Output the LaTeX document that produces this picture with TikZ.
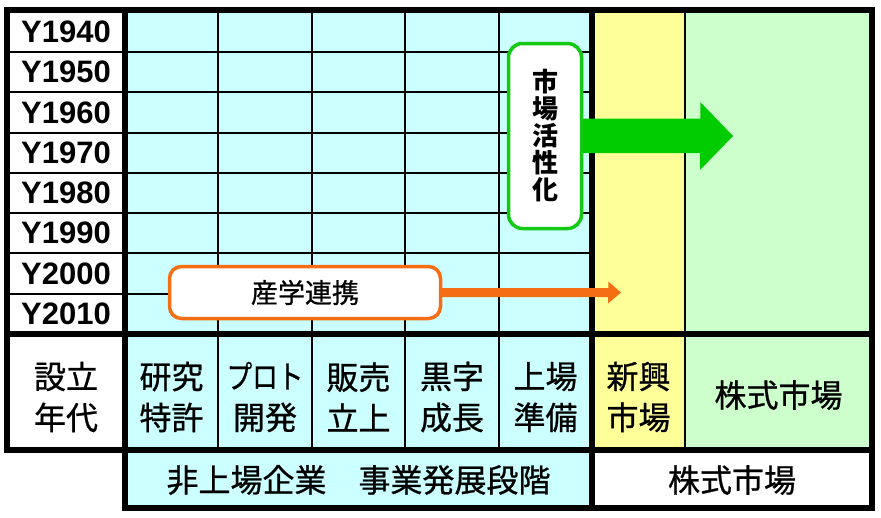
\documentclass[tikz,border=0pt]{standalone}
\usepackage{graphicx}
\usepackage{fontspec}
\setmainfont{Liberation Sans}
\newfontfamily\jp[FakeBold=0.8]{Noto Sans CJK JP}
\newfontfamily\jpb{Noto Sans CJK JP}
\definecolor{cyanbg}{RGB}{204,255,255}
\definecolor{yellowbg}{RGB}{255,255,153}
\definecolor{greenbg}{RGB}{204,255,204}
\definecolor{garrow}{RGB}{0,204,0}
\definecolor{gbord}{RGB}{20,200,20}
\definecolor{oarrow}{RGB}{245,110,20}
\begin{document}
\begin{tikzpicture}[x=1pt,y=-1pt,
  yearlbl/.style={font=\fontsize{31}{31}\selectfont\bfseries, inner sep=0pt},
  cell/.style={font=\jp\fontsize{32}{41}\selectfont, align=center, inner sep=0pt},
  thinln/.style={line width=2pt},
  thickln/.style={line width=6pt},
  mkbox/.style={draw=gbord, line width=3.5pt, fill=white, rounded corners=14pt,
    minimum width=73pt, minimum height=185pt, align=center, inner sep=0pt,
    font=\jpb\bfseries\fontsize{26}{27}\selectfont},
  sgbox/.style={draw=oarrow, line width=3.5pt, fill=white, rounded corners=12pt,
    minimum width=271pt, minimum height=52pt, inner sep=0pt,
    font=\jp\fontsize{27}{27}\selectfont}]
\useasboundingbox (0,0) rectangle (881,517);
\fill[white] (0,0) rectangle (881,517);
% background fills
\fill[cyanbg] (125,10) rectangle (592,508);
\fill[yellowbg] (592,10) rectangle (685,450);
\fill[greenbg] (685,10) rectangle (872,450);
% thin grid
\foreach \y in {52,92.25,132.5,172.75,213,253.25,293.5}
  \draw[thinln] (7,\y) -- (592,\y);
\foreach \x in {218,312,405,499,685}
  \draw[thinln] (\x,10) -- (\x,450);
% thick grid
\draw[thickln] (7,10) rectangle (872,450);
\draw[thickln] (7,334) -- (872,334);
\draw[thickln] (125,450) rectangle (872,508);
\draw[thickln] (125,10) -- (125,508);
\draw[thickln] (592,10) -- (592,508);
% year labels
\foreach \t [count=\i from 0] in {1940,1950,1960,1970,1980,1990,2000,2010}
  \node[yearlbl] (y\t) at (66,{31.9+40.25*\i}) {Y\t};
% label row
\node[cell] (setsu) at (66,397) {設立\\年代};
\node[cell] (kenkyu) at (171.5,397) {研究\\特許};
\node[cell] (proto) at (265,397) {\scalebox{0.8}[1]{プロト}\\開発};
\node[cell] (hanbai) at (358.5,397) {販売\\立上};
\node[cell] (kuroji) at (452,397) {黒字\\成長};
\node[cell] (joujou) at (545.5,397) {上場\\準備};
\node[cell] (shinko) at (638.5,397) {新興\\市場};
\node[cell] (kabu) at (778.5,395) {株式市場};
\node[cell] (hijo) at (358.5,480) {非上場企業　事業発展段階};
\node[cell] (kabu2) at (732,480) {株式市場};
% boxes
\node[mkbox] (mkt) at (545,136) {市\\場\\活\\性\\化};
\node[sgbox] (sg) at (305,292.5) {産学連携};
\coordinate (gtip) at (733,136);
\coordinate (otip) at (621,292.5);
% arrows
\fill[garrow] (mkt.east) ++(0,-17.5) -- ++(117,0) -- ++(0,-16.5) -- (gtip)
  -- ++(-33,34) -- ++(0,-17) -- ++(-117,0) -- cycle;
\fill[oarrow] (sg.east) ++(0,-4.5) -- ++(166,0) -- ++(0,-6.5) -- (otip)
  -- ++(-13,11) -- ++(0,-6.5) -- ++(-166,0) -- cycle;
\end{tikzpicture}
\end{document}
